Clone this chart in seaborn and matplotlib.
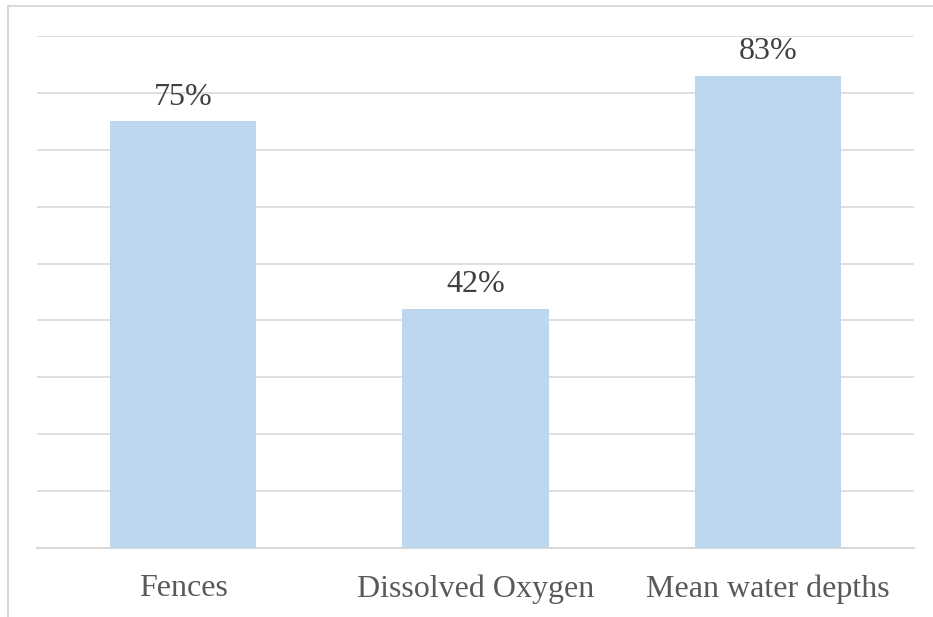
import matplotlib
matplotlib.use("Agg")
import matplotlib.pyplot as plt
from matplotlib.lines import Line2D
import seaborn as sns
import pandas as pd

categories = ["Fences", "Dissolved Oxygen", "Mean water depths"]
shares = [0.75, 0.42, 0.83]
value_labels = ["75%", "42%", "83%"]

sns.set_theme(style="white")
plt.rcParams["font.family"] = ["Liberation Serif", "DejaVu Serif"]

df = pd.DataFrame({"category": categories, "share": shares})

fig = plt.figure(figsize=(9.33, 6.17), dpi=100)
ax = fig.add_axes([37 / 933, 1 - 548 / 617, (914 - 37) / 933, (548 - 36) / 617])

sns.barplot(data=df, x="category", y="share", color="#BDD7EE", saturation=1,
            width=0.5, linewidth=0, ax=ax, zorder=3)

ax.set_ylim(0, 0.9)
ax.set_xlim(-0.5, 2.5)
ax.set_yticks([i / 10 for i in range(10)])
ax.yaxis.grid(True, color="#D9D9D9", linewidth=1.2, zorder=0)
ax.set_axisbelow(True)
ax.tick_params(axis="y", left=False, labelleft=False)
ax.tick_params(axis="x", bottom=False, pad=13, labelsize=23, labelcolor="#595959")
for side in ["top", "right", "left"]:
    ax.spines[side].set_visible(False)
ax.spines["bottom"].set_color("#D9D9D9")
ax.spines["bottom"].set_linewidth(1.5)
ax.set_xlabel("")
ax.set_ylabel("")

for container in ax.containers:
    ax.bar_label(container, labels=value_labels, padding=7, fontsize=23,
                 color="#404040")

# outer frame of the chart area
fig.add_artist(Line2D([8 / 933, 1.0], [1 - 6 / 617, 1 - 6 / 617],
                      transform=fig.transFigure, color="#D9D9D9", linewidth=1.5))
fig.add_artist(Line2D([8 / 933, 8 / 933], [0.0, 1 - 6 / 617],
                      transform=fig.transFigure, color="#D9D9D9", linewidth=1.5))

fig.savefig("out.png", dpi=100)
